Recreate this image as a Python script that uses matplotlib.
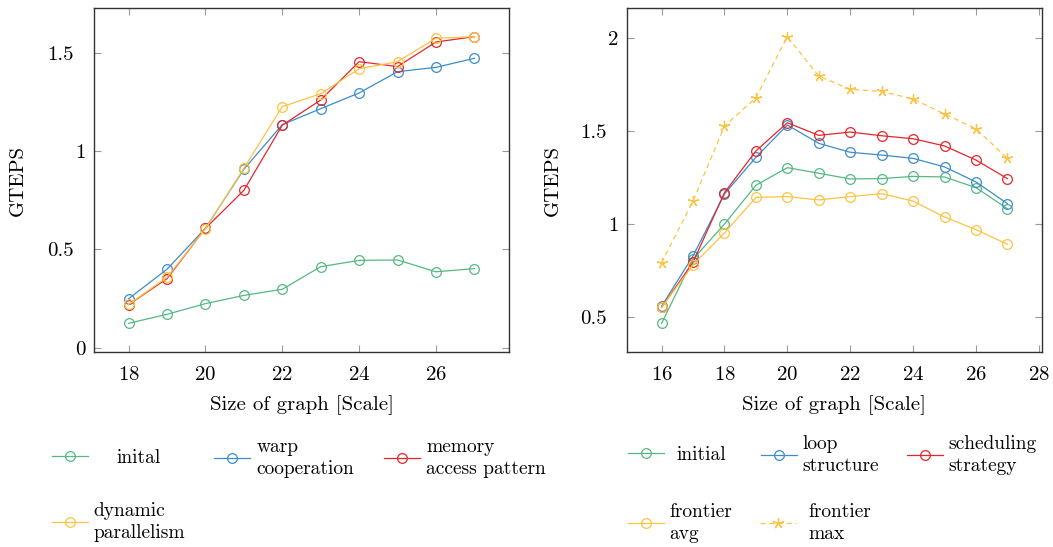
import numpy as np
import matplotlib.pyplot as plt
from matplotlib.transforms import ScaledTranslation

plt.rcParams['font.family'] = 'cmr10'
plt.rcParams['axes.formatter.use_mathtext'] = True
plt.rcParams['mathtext.fontset'] = 'cm'

# left plot
scale_left = [18, 19, 20, 21, 22, 23, 24, 25, 26, 27]
inital = [0.124, 0.170, 0.224, 0.266, 0.297, 0.412, 0.444, 0.446, 0.386, 0.402]
warp_coop = [0.249, 0.399, 0.607, 0.907, 1.134, 1.215, 1.295, 1.403, 1.425, 1.471]
mem_access = [0.219, 0.351, 0.607, 0.800, 1.131, 1.259, 1.454, 1.429, 1.554, 1.581]
dyn_par = [0.220, 0.358, 0.605, 0.912, 1.225, 1.291, 1.418, 1.454, 1.573, 1.581]

# right plot
scale_right = [16, 17, 18, 19, 20, 21, 22, 23, 24, 25, 26, 27]
initial = [0.464, 0.810, 0.999, 1.208, 1.303, 1.273, 1.242, 1.244, 1.256, 1.253, 1.195, 1.082]
loop_struct = [0.556, 0.827, 1.161, 1.359, 1.533, 1.434, 1.386, 1.371, 1.353, 1.307, 1.226, 1.109]
sched = [0.550, 0.793, 1.168, 1.393, 1.545, 1.477, 1.495, 1.475, 1.459, 1.420, 1.344, 1.244]
front_avg = [0.550, 0.779, 0.951, 1.143, 1.147, 1.129, 1.147, 1.163, 1.123, 1.037, 0.969, 0.890]
front_max = [0.791, 1.123, 1.527, 1.680, 2.009, 1.797, 1.725, 1.714, 1.673, 1.592, 1.513, 1.353]

xticks_left = [18, 20, 22, 24, 26]
yticks_left = [0, 0.5, 1, 1.5]
xticks_right = [16, 18, 20, 22, 24, 26, 28]
yticks_right = [0.5, 1, 1.5, 2]

GREEN = '#55b982'
BLUE = '#3c8dcc'
RED = '#e4262c'
YELLOW = '#fdc342'

W, H = 1053, 547
fig = plt.figure(figsize=(W / 100, H / 100), dpi=100)
axl = fig.add_axes([94 / W, 1 - 352 / H, 415 / W, 344 / H])
axr = fig.add_axes([627 / W, 1 - 352 / H, 415 / W, 344 / H])

circ = dict(marker='o', markersize=7, markerfacecolor='none', markeredgewidth=0.9, linewidth=0.9)

l1, = axl.plot(scale_left, inital, color=GREEN, **circ)
l2, = axl.plot(scale_left, warp_coop, color=BLUE, **circ)
l3, = axl.plot(scale_left, mem_access, color=RED, **circ)
l4, = axl.plot(scale_left, dyn_par, color=YELLOW, **circ)

r1, = axr.plot(scale_right, initial, color=GREEN, **circ)
r2, = axr.plot(scale_right, loop_struct, color=BLUE, **circ)
r3, = axr.plot(scale_right, sched, color=RED, **circ)
r4, = axr.plot(scale_right, front_avg, color=YELLOW, **circ)
r5, = axr.plot(scale_right, front_max, color=YELLOW, marker=(5, 2, 0), markersize=8,
               markeredgewidth=0.9, linewidth=0.9, dashes=(4, 3))


def enlarge(vals, frac=0.1):
    lo, hi = min(vals), max(vals)
    d = (hi - lo) * frac
    return lo - d, hi + d


def style(ax, xs, ys, xt, yt):
    ax.set_xlim(*enlarge(xs))
    ax.set_ylim(*enlarge(ys))
    ax.set_xticks(xt)
    ax.set_yticks(yt)
    ax.set_yticklabels(['%g' % v for v in yt])
    ax.tick_params(direction='in', length=5, width=0.8, color='#9a9a9a',
                   top=True, right=True, labelsize=15)
    ax.tick_params(axis='x', pad=10)
    ax.tick_params(axis='y', pad=6)
    for s in ax.spines.values():
        s.set_color('#333333')
        s.set_linewidth(1.0)
    ax.set_xlabel('Size of graph [Scale]', fontsize=15, va='center')
    ax.set_ylabel('GTEPS', fontsize=15, va='center')
    ax.xaxis.set_label_coords(0.5, -0.155)


style(axl, scale_left, inital + warp_coop + mem_access + dyn_par,
      xticks_left, yticks_left)
style(axr, scale_right, initial + loop_struct + sched + front_avg + front_max,
      xticks_right, yticks_right)
axl.yaxis.set_label_coords((18 - 94) / 415, 0.5)
axr.yaxis.set_label_coords((553 - 627) / 415, 0.5)


def entry(handle, label, x, y, gap):
    leg = fig.legend(handles=[handle], labels=[label], loc='center left',
                     bbox_to_anchor=(x / W, 1 - y / H), frameon=False,
                     borderpad=0, borderaxespad=0, handlelength=1.86,
                     handletextpad=gap / 19.4, fontsize=14)
    for t in leg.get_texts():
        t.set_linespacing(1.3)


entry(l1, 'inital', 52, 458, 28)
entry(l2, 'warp\ncooperation', 214, 458, 6)
entry(l3, 'memory\naccess pattern', 384, 458, 6)
entry(l4, 'dynamic\nparallelism', 52, 522, 5)

entry(r1, 'initial', 628, 455, 12)
entry(r2, 'loop\nstructure', 761, 455, 5)
entry(r3, 'scheduling\nstrategy', 907, 455, 5)
entry(r4, 'frontier\navg', 628, 523, 5)
entry(r5, 'frontier\nmax', 760, 523, 12)

# decimal tick labels sit a bit further left, as in the original
fig.canvas.draw()
shift = ScaledTranslation(-12 / 100, 0, fig.dpi_scale_trans)
for ax in (axl, axr):
    for lab in ax.get_yticklabels():
        if '.' in lab.get_text():
            lab.set_transform(lab.get_transform() + shift)

fig.savefig('out.png', dpi=100)
